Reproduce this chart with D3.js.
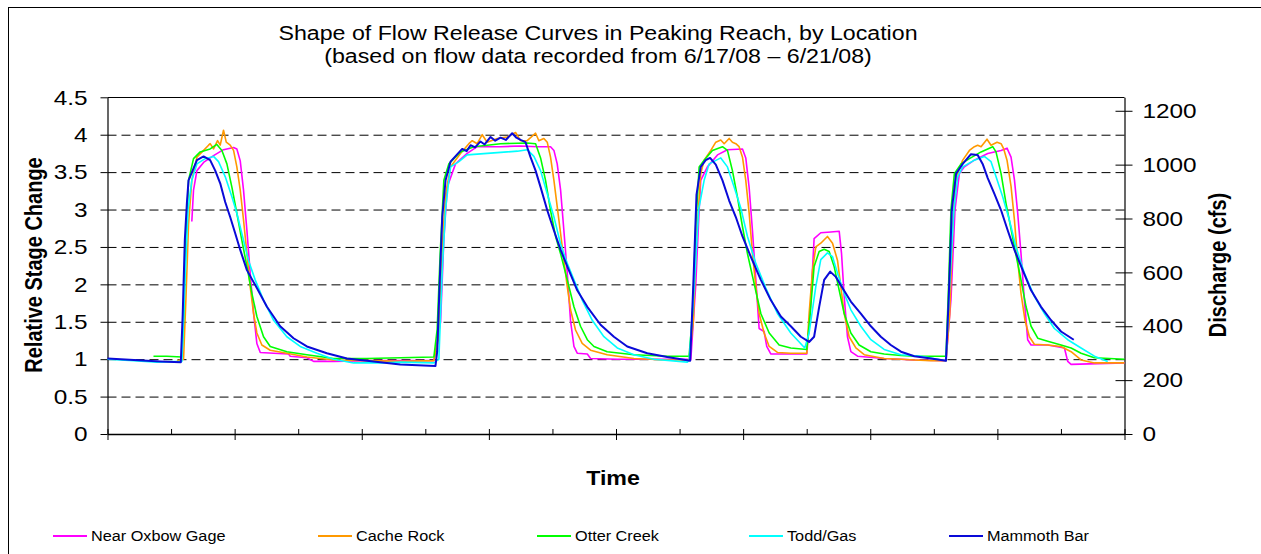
<!DOCTYPE html>
<html><head><meta charset="utf-8">
<script src="https://cdn.jsdelivr.net/npm/d3@7"></script>
<style>
body{margin:0;background:#fff;}
svg{display:block;font-family:Arial,"Liberation Sans",sans-serif;}
</style></head><body>
<svg id="chart" width="1261" height="554"></svg>
<script>
// ---------- data ----------
const titleText = "Shape of Flow Release Curves in Peaking Reach, by Location";
const subtitleText = "(based on flow data recorded from 6/17/08 \u2013 6/21/08)";
const xTitle = "Time";
const yLeftTitle = "Relative Stage Change";
const yRightTitle = "Discharge (cfs)";
const seriesNames = ["Near Oxbow Gage","Cache Rock","Otter Creek","Todd/Gas","Mammoth Bar"];
const leftTicks = [0,0.5,1,1.5,2,2.5,3,3.5,4,4.5];
const leftTickLabels = ["0","0.5","1","1.5","2","2.5","3","3.5","4","4.5"];
const rightTicks = [0,200,400,600,800,1000,1200];
const rightTickLabels = ["0","200","400","600","800","1000","1200"];
const xMajorTicks = [0,12,24,36,48,60,72,84,96];   // hours
const xMinorTicks = [6,18,30,42,54,66,78,90];

// [hour, relative stage]
const nearOxbow = [[7.96,2.84],[8.12,3.26],[8.44,3.52],[9.07,3.63],[10.01,3.72],[10.95,3.80],[11.90,3.83],[12.21,3.81],[12.53,3.65],[12.84,3.26],[13.16,2.72],[13.47,2.15],[13.79,1.61],[14.10,1.21],[14.42,1.09],[15.68,1.08],[17.09,1.07],[17.25,1.04],[18.82,1.02],[19.45,0.97],[21.34,0.97],[24.49,0.98],[27.64,0.98],
[30.81,0.98],[31.44,1.5],[31.75,2.6],[32.07,3.30],[32.85,3.61],[33.95,3.75],[34.90,3.84],[37.10,3.84],[38.99,3.85],[40.56,3.84],[41.82,3.84],[42.14,3.79],[42.45,3.61],[42.77,3.26],[43.08,2.72],[43.40,2.15],[43.71,1.51],[44.03,1.17],[44.34,1.08],[45.29,1.07],[45.60,1.01],[48.12,1.00],[52.84,1.00],[54.73,1.00],
[55.06,0.99],[55.53,2.0],[55.85,3.0],[56.00,3.39],[56.63,3.57],[57.58,3.73],[58.52,3.80],[59.94,3.81],[60.25,3.69],[60.57,3.29],[60.88,2.72],[61.20,2.06],[61.51,1.41],[61.98,1.37],[62.23,1.17],[62.61,1.07],[64.50,1.07],[66.01,1.07],[66.33,1.61],[66.70,2.61],[67.33,2.69],[68.28,2.70],[69.07,2.71],[69.29,2.41],[69.54,1.84],[69.85,1.30],[70.17,1.10],[70.80,1.04],[73.31,1.01],[74.89,1.00],
[76.16,0.99],[79.15,0.98],[79.62,1.8],[80.0,3.0],[80.41,3.48],[80.88,3.57],[81.83,3.66],[83.09,3.75],[84.35,3.79],[84.91,3.82],[85.29,3.70],[85.61,3.40],[85.92,2.95],[86.23,2.41],[86.55,1.79],[86.86,1.26],[87.18,1.19],[88.75,1.19],[90.33,1.15],[90.64,0.97],[90.96,0.93],[93.47,0.94],[95.99,0.95]];

const cacheRock = [[6.55,0.98],[7.18,1.0],[7.4,1.8],[7.65,2.8],[7.96,3.39],[8.44,3.70],[9.07,3.79],[9.54,3.86],[9.69,3.88],[10.01,3.81],[10.39,3.92],[10.64,3.86],[10.95,4.06],[11.21,3.90],[11.58,3.86],[11.90,3.79],[12.21,3.57],[12.53,3.26],[12.84,2.86],[13.16,2.41],[13.47,1.97],[13.79,1.61],[14.10,1.35],[14.57,1.19],[15.36,1.12],[16.93,1.08],[18.82,1.03],[21.34,0.99],[24.49,0.98],[27.64,0.97],
[30.81,0.98],[31.28,1.3],[31.6,2.5],[31.91,3.2],[32.38,3.57],[33.32,3.75],[34.11,3.88],[34.43,3.92],[34.90,3.88],[35.37,4.00],[35.84,3.90],[36.79,3.95],[37.73,3.97],[38.52,4.03],[38.99,3.92],[39.62,3.92],[40.41,4.02],[40.72,3.92],[41.19,3.95],[41.51,3.90],[41.82,3.70],[42.14,3.39],[42.45,3.04],[42.77,2.68],[43.08,2.32],[43.40,1.97],[43.71,1.66],[44.18,1.39],[44.81,1.21],[45.60,1.12],[47.17,1.06],[49.69,1.01],[52.84,0.99],[54.89,0.99],
[55.3,1.5],[55.6,2.6],[56.0,3.48],[56.32,3.66],[56.95,3.79],[57.42,3.90],[57.89,3.93],[58.21,3.88],[58.68,3.95],[58.99,3.90],[59.31,3.88],[59.62,3.84],[59.94,3.70],[60.25,3.39],[60.57,2.95],[60.88,2.41],[61.20,1.97],[61.51,1.61],[61.98,1.35],[62.46,1.17],[63.24,1.09],[64.50,1.08],[66.01,1.08],[66.23,1.61],[66.55,2.19],[66.86,2.50],[67.33,2.55],[67.96,2.64],[68.44,2.55],[68.91,2.32],[69.22,1.97],[69.54,1.61],[70.01,1.30],[70.64,1.15],[71.43,1.06],[73.31,1.01],[74.89,1.00],
[76.16,0.99],[77.74,0.98],[79.15,0.98],[79.5,1.6],[79.8,2.8],[80.10,3.43],[80.73,3.66],[81.36,3.79],[81.83,3.84],[82.14,3.86],[82.46,3.84],[83.02,3.94],[83.40,3.86],[83.97,3.90],[84.35,3.88],[84.60,3.81],[84.91,3.66],[85.29,3.31],[85.61,2.86],[85.92,2.32],[86.23,1.88],[86.61,1.52],[87.02,1.30],[87.49,1.20],[88.75,1.19],[90.01,1.17],[90.96,1.10],[91.90,0.99],[93.16,0.95],[95.99,0.95]];

const otterCreek = [[4.34,1.04],[5.60,1.04],[7.02,1.03],[7.2,1.6],[7.4,2.6],[7.65,3.39],[8.12,3.68],[8.75,3.77],[9.69,3.81],[10.32,3.87],[10.80,3.79],[11.27,3.61],[11.74,3.30],[12.21,2.95],[12.68,2.59],[13.16,2.24],[13.63,1.88],[14.10,1.57],[14.73,1.30],[15.36,1.17],[16.93,1.10],[18.82,1.06],[21.34,1.01],[24.49,1.01],[27.64,1.02],
[30.81,1.03],[31.12,1.4],[31.4,2.4],[31.75,3.39],[32.22,3.61],[33.32,3.77],[34.58,3.84],[37.10,3.88],[39.62,3.89],[40.41,3.88],[40.88,3.69],[41.35,3.39],[41.82,2.99],[42.30,2.64],[42.77,2.41],[43.40,2.06],[44.03,1.70],[44.65,1.44],[45.29,1.26],[45.92,1.17],[47.17,1.10],[49.69,1.06],[52.84,1.04],[54.73,1.04],
[54.90,1.04],[55.22,1.6],[55.53,2.8],[55.85,3.57],[56.32,3.66],[57.10,3.79],[58.05,3.84],[58.52,3.79],[58.99,3.52],[59.46,3.17],[59.94,2.77],[60.41,2.41],[61.04,2.01],[61.67,1.61],[62.46,1.35],[63.40,1.19],[64.50,1.15],[66.01,1.13],[66.33,1.61],[66.70,2.24],[67.18,2.44],[67.65,2.47],[68.12,2.44],[68.59,2.24],[69.07,1.92],[69.54,1.61],[70.17,1.35],[70.95,1.19],[72.06,1.10],[73.31,1.07],[74.89,1.05],
[76.16,1.04],[77.74,1.04],[79.15,1.04],[79.4,2.0],[79.62,3.0],[79.94,3.48],[80.57,3.61],[81.36,3.68],[82.46,3.77],[83.56,3.84],[83.87,3.77],[84.35,3.48],[84.82,3.08],[85.29,2.74],[85.76,2.39],[86.23,2.06],[86.71,1.70],[87.18,1.44],[87.81,1.28],[88.75,1.24],[90.01,1.19],[90.96,1.15],[91.90,1.08],[93.16,1.02],[95.99,1.00]];

const toddGas = [[0,1.0],[2.46,0.98],[4.66,0.96],[7.02,0.97],[7.3,2.0],[7.6,3.0],[7.96,3.39],[8.44,3.61],[9.22,3.68],[10.01,3.71],[10.48,3.64],[11.11,3.44],[11.74,3.17],[12.21,2.95],[12.68,2.68],[13.31,2.32],[13.94,2.06],[14.73,1.79],[15.68,1.52],[16.93,1.30],[18.19,1.17],[19.77,1.08],[21.34,1.00],[23.23,0.95],[26.06,0.95],[27.64,0.96],
[30.81,0.95],[31.28,1.0],[31.6,2.2],[31.91,3.0],[32.22,3.39],[32.38,3.57],[33.17,3.64],[33.95,3.73],[34.9,3.74],[35.84,3.75],[36.8,3.76],[37.73,3.77],[38.7,3.78],[39.62,3.80],[40.25,3.71],[40.88,3.52],[41.51,3.21],[42.14,2.90],[42.77,2.54],[43.40,2.28],[44.03,2.06],[44.81,1.79],[45.76,1.52],[46.86,1.30],[48.12,1.15],[49.69,1.06],[51.58,1.00],[54.73,0.96],
[54.90,0.98],[55.4,2.0],[55.8,3.0],[56.32,3.39],[56.79,3.61],[57.89,3.69],[58.52,3.57],[59.15,3.30],[59.78,3.02],[60.41,2.64],[61.20,2.28],[62.14,1.95],[63.24,1.61],[64.50,1.35],[65.82,1.15],[66.23,1.35],[66.86,1.97],[67.33,2.33],[67.96,2.42],[68.44,2.37],[68.91,2.15],[69.54,1.88],[70.17,1.66],[71.11,1.44],[72.06,1.26],[73.31,1.13],[74.89,1.06],
[76.79,1.04],[79.15,0.98],[79.5,2.0],[79.9,3.0],[80.25,3.44],[80.73,3.57],[81.83,3.66],[82.77,3.71],[83.40,3.64],[83.87,3.44],[84.50,3.17],[85.13,2.86],[85.76,2.50],[86.55,2.15],[87.49,1.84],[88.44,1.61],[89.38,1.41],[90.64,1.26],[91.90,1.15],[93.16,1.04],[94.42,0.97]];

const mammothBar = [[0,1.01],[2.5,0.99],[5,0.97],[6.92,0.96],[7.1,1.6],[7.3,2.6],[7.5,3.1],[7.65,3.39],[8.44,3.66],[9.07,3.71],[9.69,3.66],[10.17,3.52],[10.64,3.35],[11.11,3.10],[11.58,2.90],[12.06,2.68],[12.53,2.46],[13.16,2.19],[14.10,1.95],[15.05,1.70],[16.30,1.44],[17.56,1.28],[18.82,1.17],[20.71,1.08],[22.60,1.01],[24.49,0.98],[27.64,0.93],
[30.96,0.91],[31.12,1.1],[31.35,2.0],[31.6,2.9],[31.91,3.39],[32.38,3.64],[33.48,3.81],[33.9,3.78],[34.27,3.86],[34.7,3.83],[35.21,3.91],[35.6,3.87],[36.16,3.97],[36.6,3.92],[37.10,3.96],[37.6,3.93],[38.20,4.02],[38.6,3.96],[38.99,3.93],[39.46,3.90],[39.93,3.70],[40.41,3.52],[40.88,3.30],[41.51,2.99],[42.14,2.72],[42.77,2.46],[43.40,2.24],[44.34,1.92],[45.29,1.70],[46.54,1.46],[47.80,1.30],[49.06,1.17],[50.95,1.08],[52.84,1.03],[55.0,0.98],
[55.3,2.0],[55.6,3.2],[56.0,3.57],[56.47,3.66],[56.88,3.69],[57.42,3.60],[58.05,3.39],[58.68,3.12],[59.31,2.90],[59.94,2.64],[60.72,2.37],[61.67,2.06],[62.61,1.79],[63.56,1.57],[64.50,1.44],[65.45,1.30],[66.23,1.23],[66.70,1.30],[67.18,1.70],[67.65,2.06],[68.22,2.17],[68.75,2.10],[69.38,1.95],[70.17,1.77],[71.11,1.61],[72.06,1.44],[73.00,1.30],[73.94,1.19],[74.90,1.10],[76.16,1.04],[77.74,1.01],[79.15,0.98],
[79.4,1.8],[79.7,3.0],[80.10,3.48],[80.73,3.61],[81.51,3.74],[82.14,3.73],[82.61,3.61],[83.09,3.42],[83.72,3.21],[84.35,2.99],[84.98,2.72],[85.61,2.46],[86.39,2.19],[87.18,1.92],[88.12,1.70],[89.07,1.52],[90.01,1.37],[91.21,1.26]];

const seriesData = [nearOxbow, cacheRock, otterCreek, toddGas, mammothBar];

// ---------- styles ----------
const seriesColors = ["#FF00FF","#FF9900","#00FF00","#00FFFF","#0A0AD8"];
const seriesWidths = [1.6,1.6,1.6,1.6,2];
const SX = 1.16; // horizontal text stretch of the original rendering

// ---------- layout ----------
const svg = d3.select("#chart");
const L = 107.5, R = 1124.5, T = 97.3, B = 434;
const x = d3.scaleLinear().domain([0,96]).range([L,R]);
const y = d3.scaleLinear().domain([0,4.5]).range([B,T]);
const yR = d3.scaleLinear().domain([0,1250]).range([B,T]);

function txt(g, px, py, s, o={}) {
  return g.append("text")
    .attr("transform", `translate(${px},${py}) scale(${SX},1)` + (o.rot ? ` rotate(${o.rot})` : ""))
    .attr("text-anchor", o.anchor || "start")
    .attr("font-size", o.size)
    .attr("font-weight", o.weight || "normal")
    .attr("dy", o.dy || 0)
    .attr("fill", "#000")
    .text(s);
}

// outer border
svg.append("rect").attr("x",8.5).attr("y",7.5).attr("width",1300).attr("height",600)
  .attr("fill","none").attr("stroke","#000").attr("stroke-width",1);

// titles
txt(svg, 598, 40, titleText, {size:20, anchor:"middle"});
txt(svg, 598, 63, subtitleText, {size:20, anchor:"middle"});

// gridlines
const grid = svg.append("g").attr("transform",`translate(${L},0)`)
  .call(d3.axisLeft(y).tickValues(leftTicks.filter(d=>d>0 && d<4.5)).tickSize(-(R-L)).tickFormat(""));
grid.select(".domain").remove();
grid.selectAll("line").attr("stroke","#000").attr("stroke-dasharray","9,5").attr("stroke-width",1);

// plot frame (top line)
svg.append("line").attr("x1",L).attr("x2",R).attr("y1",97.5).attr("y2",97.5).attr("stroke","#000");

// left axis
const gl = svg.append("g").attr("transform",`translate(${L},0)`)
  .call(d3.axisLeft(y).tickValues(leftTicks).tickFormat((d,i)=>leftTickLabels[i]).tickSizeInner(7).tickSizeOuter(0));
gl.select(".domain").attr("stroke","#000").attr("stroke-width",1.2);
gl.selectAll(".tick line").attr("stroke","#000");
gl.selectAll(".tick text").attr("font-size",21).attr("font-family","Arial,'Liberation Sans',sans-serif")
  .attr("x", -20/SX).attr("transform",`scale(${SX},1)`).attr("fill","#000");

// right axis
const gr = svg.append("g").attr("transform",`translate(${R},0)`)
  .call(d3.axisRight(yR).tickValues(rightTicks).tickFormat((d,i)=>rightTickLabels[i]).tickSizeInner(8).tickSizeOuter(0));
gr.select(".domain").attr("stroke","#000").attr("stroke-width",1.2);
gr.selectAll(".tick line").attr("stroke","#000").attr("x1",-9);
gr.selectAll(".tick text").attr("font-size",21).attr("font-family","Arial,'Liberation Sans',sans-serif")
  .attr("x", 18/SX).attr("transform",`scale(${SX},1)`).attr("fill","#000");

// bottom axis: major (cross) and minor (inside)
const gbM = svg.append("g").attr("transform",`translate(0,${B})`)
  .call(d3.axisBottom(x).tickValues(xMajorTicks).tickFormat("").tickSizeInner(6).tickSizeOuter(0));
gbM.select(".domain").attr("stroke","#000").attr("stroke-width",1.5);
gbM.selectAll(".tick line").attr("stroke","#000").attr("y1",-5);
const gbm = svg.append("g").attr("transform",`translate(0,${B})`)
  .call(d3.axisBottom(x).tickValues(xMinorTicks).tickFormat("").tickSizeInner(-5).tickSizeOuter(0));
gbm.select(".domain").remove();
gbm.selectAll(".tick line").attr("stroke","#000");

// axis titles
txt(svg, 613, 485, xTitle, {size:20, weight:"bold", anchor:"middle"});
txt(svg, 34, 265, yLeftTitle, {size:20, weight:"bold", anchor:"middle", rot:-90, dy:"0.35em"});
txt(svg, 1218, 265, yRightTitle, {size:20, weight:"bold", anchor:"middle", rot:-90, dy:"0.35em"});

// series lines
const line = d3.line().x(d=>x(d[0])).y(d=>y(d[1]));
const gLines = svg.append("g");
seriesData.forEach((data,i)=>{
  gLines.append("path").datum(data).attr("d",line)
    .attr("fill","none").attr("stroke",seriesColors[i]).attr("stroke-width",seriesWidths[i])
    .attr("stroke-linejoin","round");
});

// legend
const legX = [53,318,537,749,949];
const legY = 536;
seriesNames.forEach((n,i)=>{
  svg.append("line").attr("x1",legX[i]).attr("x2",legX[i]+34).attr("y1",legY).attr("y2",legY)
    .attr("stroke",seriesColors[i]).attr("stroke-width",2);
  txt(svg, legX[i]+38, legY, n, {size:14, dy:"0.35em"});
});
</script>
</body></html>
